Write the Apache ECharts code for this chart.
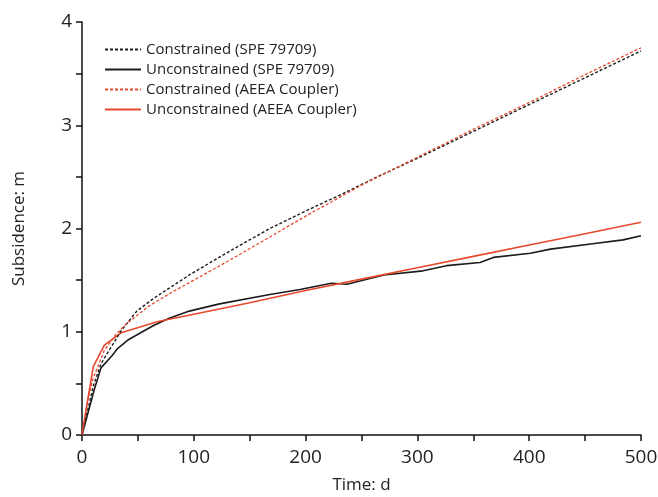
<!DOCTYPE html>
<html>
<head>
<meta charset="utf-8">
<script src="https://cdn.jsdelivr.net/npm/echarts@6/dist/echarts.min.js"></script>
<style>html,body{margin:0;padding:0;background:#fff}#c{width:658px;height:497px}</style>
</head>
<body>
<div id="c"></div>
<script>
var seriesNames = ['Constrained (SPE 79709)', 'Unconstrained (SPE 79709)', 'Constrained (AEEA Coupler)', 'Unconstrained (AEEA Coupler)'];
var constrainedSPE = [[0,0],[10,0.47],[17,0.69],[26,0.85],[35,1.01],[49,1.2],[65,1.33],[96,1.55],[132,1.78],[168,2.0],[204,2.19],[230,2.32],[264,2.5],[300,2.68],[350,2.94],[400,3.2],[450,3.46],[500,3.72]];
var unconstrainedSPE = [[0,0],[11,0.44],[17,0.65],[27,0.77],[32,0.84],[41,0.92],[64,1.06],[78,1.13],[96,1.2],[123,1.27],[168,1.36],[195,1.41],[223,1.47],[237,1.46],[270,1.55],[305,1.59],[326,1.64],[356,1.67],[368,1.72],[401,1.76],[419,1.8],[455,1.85],[484,1.89],[500,1.93]];
var constrainedAEEA = [[0,0],[5,0.33],[10,0.55],[20,0.82],[30,0.97],[40,1.08],[60,1.25],[80,1.38],[100,1.5],[130,1.68],[170,1.93],[200,2.12],[250,2.42],[300,2.69],[350,2.96],[400,3.22],[450,3.49],[500,3.75]];
var unconstrainedAEEA = [[0,0],[10,0.66],[20,0.87],[35,0.99],[68,1.1],[100,1.17],[150,1.28],[200,1.4],[250,1.51],[300,1.62],[350,1.73],[400,1.84],[450,1.95],[500,2.06]];
var xTicks = {min: 0, max: 500, interval: 100};
var yTicks = {min: 0, max: 4, interval: 1};

var BLACK = '#1c1c1c', RED = '#e8482c';
var font = 'Open Sans';
function axisCommon(extra) {
  return Object.assign({
    axisLine: {show: true, onZero: false, lineStyle: {color: '#111', width: 1.5}},
    axisTick: {show: true, inside: false, length: 6, lineStyle: {color: '#111', width: 1.5}},
    minorTick: {show: true, splitNumber: 2, length: 6, lineStyle: {color: '#111', width: 1.5}},
    splitLine: {show: false},
    axisLabel: {color: '#222', fontSize: 19, fontFamily: font},
    nameTextStyle: {color: '#222', fontSize: 17, fontFamily: font}
  }, extra);
}
var chart = echarts.init(document.getElementById('c'), null, {renderer: 'canvas'});
function line(name, data, color, dashed, w) {
  return {
    name: name, type: 'line', data: data, showSymbol: false, symbol: 'none',
    lineStyle: {color: color, width: w, type: dashed ? [3, 2] : 'solid'},
    itemStyle: {color: color}, animation: false, z: dashed ? 3 : 2
  };
}
var xAx = axisCommon({type: 'value', min: xTicks.min, max: xTicks.max, interval: xTicks.interval,
    name: 'Time: d', nameLocation: 'middle', nameGap: 42});
xAx.axisLabel.margin = 13;
var yAx = axisCommon({type: 'value', min: yTicks.min, max: yTicks.max, interval: yTicks.interval,
    name: 'Subsidence: m', nameLocation: 'middle', nameGap: 54});
yAx.axisLabel.margin = 10;
chart.setOption({
  animation: false,
  grid: {left: 82, right: 17, top: 22, bottom: 62, containLabel: false, outerBoundsMode: 'none'},
  legend: {
    orient: 'vertical', left: 99, top: 37, itemWidth: 36, itemHeight: 14, itemGap: 5,
    itemStyle: {opacity: 0},
    textStyle: {fontSize: 15, lineHeight: 14, fontFamily: font, color: '#222'},
    data: seriesNames
  },
  xAxis: xAx,
  yAxis: yAx,
  series: [
    line(seriesNames[0], constrainedSPE, BLACK, true, 1.4),
    line(seriesNames[1], unconstrainedSPE, BLACK, false, 1.6),
    line(seriesNames[2], constrainedAEEA, RED, true, 1.3),
    line(seriesNames[3], unconstrainedAEEA, RED, false, 1.6)
  ]
});
</script>
</body>
</html>
